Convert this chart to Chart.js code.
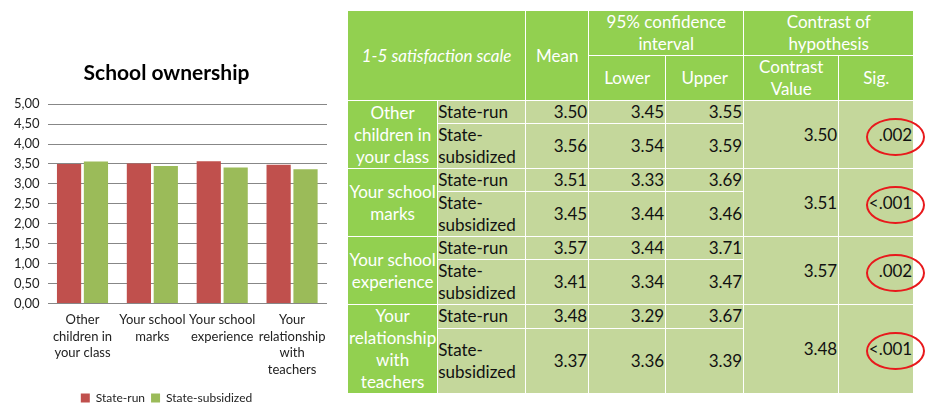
<!DOCTYPE html>
<html>
<head>
<meta charset="utf-8">
<script src="https://cdn.jsdelivr.net/npm/chart.js@4.4.0/dist/chart.umd.min.js"></script>
<style>
    body { margin: 0; background: #fff; font-family: Lato, sans-serif; overflow: hidden; }
    #chartBox { position: absolute; left: 0; top: 45px; width: 335px; height: 369px; }
    #tbl { position: absolute; left: 347px; top: 10px; border-collapse: collapse; table-layout: fixed; font-size: 17px; }
    #tbl td { border: 1.5px solid #fff; padding: 0 1px; line-height: 22px; background: #C4D79B; color: #111; }
    #tbl td.head { background: #92D050; color: #fff; text-align: center; }
    #tbl td.num { text-align: right; }
    #tbl td.grp { background: #92D050; color: #fff; text-align: center; }
    #tbl td.kind { text-align: left; padding-left: 0; }
    #tbl td.sigcell { position: relative; text-align: right; padding-right: 1px; }
    #tbl tr.h1 { height: 43px; }
    #tbl tr.h2 { height: 44px; }
    #tbl tr.run { height: 21.5px; }
    #tbl tr.sub { height: 43.5px; }
    #tbl tr.sub.last { height: 63px; }
    .ring { position: absolute; right: -12px; top: 50%; width: 59px; height: 38px; margin-top: -17px;
            border: 2.5px solid #e8191c; border-radius: 50%; box-sizing: border-box; }
</style>
</head>
<body>
<div id="chartBox"><canvas id="myChart"></canvas></div>
<table id="tbl"></table>
<script>
// chart data
var categoryLines = [
    ['Other', 'children in', 'your class'],
    ['Your school', 'marks'],
    ['Your school', 'experience'],
    ['Your', 'relationship', 'with', 'teachers']
];
var tableCategoryLines = [
    ['Other', 'children in', 'your class'],
    ['Your school', 'marks'],
    ['Your school', 'experience'],
    ['Your', 'relationship', 'with', 'teachers']
];
var yTicks = [0, 0.5, 1, 1.5, 2, 2.5, 3, 3.5, 4, 4.5, 5];
var stateRun = [3.50, 3.51, 3.57, 3.48];
var stateSubsidized = [3.56, 3.45, 3.41, 3.37];

// table data
var lowerRun = [3.45, 3.33, 3.44, 3.29];
var upperRun = [3.55, 3.69, 3.71, 3.67];
var lowerSub = [3.54, 3.44, 3.34, 3.36];
var upperSub = [3.59, 3.46, 3.47, 3.39];
var contrastValue = [3.50, 3.51, 3.57, 3.48];
var sigValues = ['.002', '<.001', '.002', '<.001'];

// build the table
var tbl = document.getElementById('tbl');
var colWidths = [90, 88, 63, 77, 78, 95, 75];
var html = '<colgroup>' + colWidths.map(function(w) { return '<col style="width:' + w + 'px">'; }).join('') + '</colgroup>';
html += '<tr class="h1"><td class="head" colspan="2" rowspan="2"><i>1-5 satisfaction scale</i></td>' +
        '<td class="head" rowspan="2">Mean</td>' +
        '<td class="head" colspan="2">95% confidence<br>interval</td>' +
        '<td class="head" colspan="2">Contrast of<br>hypothesis</td></tr>';
html += '<tr class="h2"><td class="head">Lower</td><td class="head">Upper</td>' +
        '<td class="head">Contrast<br>Value</td><td class="head">Sig.</td></tr>';
tableCategoryLines.forEach(function(lines, i) {
    var last = i === tableCategoryLines.length - 1 ? ' last' : '';
    html += '<tr class="run"><td class="grp" rowspan="2">' + lines.join('<br>') + '</td>' +
            '<td class="kind">State-run</td>' +
            '<td class="num">' + stateRun[i].toFixed(2) + '</td>' +
            '<td class="num">' + lowerRun[i].toFixed(2) + '</td>' +
            '<td class="num">' + upperRun[i].toFixed(2) + '</td>' +
            '<td class="num" rowspan="2">' + contrastValue[i].toFixed(2) + '</td>' +
            '<td class="sigcell" rowspan="2">' + sigValues[i].replace('<', '&lt;') + '<span class="ring"></span></td></tr>';
    html += '<tr class="sub' + last + '"><td class="kind">State-<br>subsidized</td>' +
            '<td class="num">' + stateSubsidized[i].toFixed(2) + '</td>' +
            '<td class="num">' + lowerSub[i].toFixed(2) + '</td>' +
            '<td class="num">' + upperSub[i].toFixed(2) + '</td></tr>';
});
tbl.innerHTML = html;

// chart
Chart.defaults.font.family = 'Lato';
var ctx = document.getElementById('myChart').getContext('2d');
var myChart = new Chart(ctx, {
    type: 'bar',
    data: {
        labels: categoryLines,
        datasets: [{
            label: 'State-run',
            data: stateRun,
            backgroundColor: '#C0504D'
        }, {
            label: 'State-subsidized',
            data: stateSubsidized,
            backgroundColor: '#9BBB59'
        }]
    },
    options: {
        responsive: true,
        maintainAspectRatio: false,
        animation: false,
        categoryPercentage: 0.77,
        barPercentage: 0.9,
        layout: { padding: { left: 6, right: 8, top: 0, bottom: 0 } },
        scales: {
            x: {
                grid: { display: false, drawTicks: false },
                border: { display: false },
                ticks: { color: '#222', font: { size: 13, lineHeight: 1.28 }, maxRotation: 0, autoSkip: false, padding: 8 }
            },
            y: {
                min: 0,
                max: 5,
                afterBuildTicks: function(axis) {
                    axis.ticks = yTicks.map(function(v) { return { value: v }; });
                },
                ticks: {
                    color: '#222',
                    font: { size: 13 },
                    padding: 8,
                    callback: function(v) { return v.toFixed(2).replace('.', ','); }
                },
                grid: { color: '#878787', drawTicks: false },
                border: { display: false }
            }
        },
        plugins: {
            title: {
                display: true,
                text: 'School ownership',
                color: '#000',
                font: { size: 21, weight: 'bold' },
                padding: { top: 16, bottom: 18 }
            },
            legend: {
                position: 'bottom',
                labels: { boxWidth: 9, boxHeight: 9, color: '#222', font: { size: 12 }, padding: 6 }
            },
            tooltip: { enabled: false }
        }
    }
});
</script>
</body>
</html>
